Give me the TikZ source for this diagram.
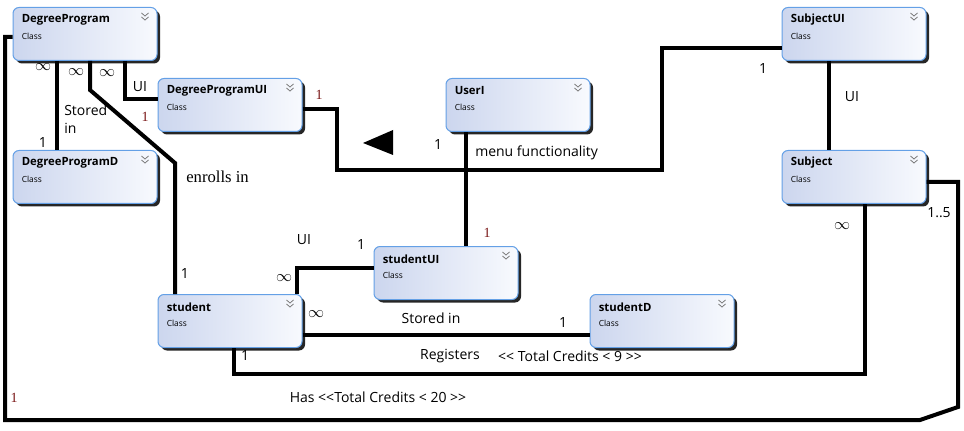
\documentclass[tikz,border=0pt]{standalone}
\usepackage{fontspec}
\setmainfont{Open Sans}
\newfontfamily\serifface{Liberation Serif}
\usetikzlibrary{shadows, positioning}

\definecolor{boxline}{RGB}{100,160,230}
\definecolor{boxleft}{RGB}{204,214,238}
\definecolor{boxright}{RGB}{248,250,254}
\definecolor{chev}{RGB}{120,120,120}
\definecolor{multred}{RGB}{120,20,20}

\begin{document}
\begin{tikzpicture}[
    x=0.75pt, y=-0.75pt,
    cls/.style={rectangle, draw=boxline, line width=0.75pt, rounded corners=4.5pt,
        left color=boxleft, right color=boxright, minimum width=108pt, minimum height=39.75pt,
        inner sep=0pt, drop shadow={shadow xshift=2.25pt, shadow yshift=-2.25pt, fill=black!85, opacity=1}},
    ttl/.style={anchor=west, inner sep=0pt, font=\bfseries\fontsize{8.5}{10}\selectfont},
    kind/.style={anchor=west, inner sep=0pt, font=\fontsize{6.3}{7}\selectfont},
    assoc/.style={line width=3pt},
    lbl/.style={inner sep=0pt, font=\fontsize{10.5}{13}\selectfont},
    inf/.style={inner sep=0pt, font=\fontsize{12}{13}\selectfont},
    mult/.style={lbl, text=multred, font=\serifface\fontsize{10.5}{12}\selectfont}
]
    \useasboundingbox (0,0) rectangle (964,431);

    % classes
    \foreach \n/\x/\y/\t in {dp/85/34/DegreeProgram, dpD/85/177/DegreeProgramD,
        dpUI/230/105/DegreeProgramUI, userI/518/105/UserI, subUI/854/34/SubjectUI,
        subj/854/177/Subject, stUI/446/273/studentUI, stu/230/321/student, stD/662/321/studentD} {
        \node[cls] (\n) at (\x,\y) {};
        \node[ttl] at ([shift={(9,13)}]\n.north west) {\t};
        \node[kind] at ([shift={(9,29)}]\n.north west) {Class};
        \draw[chev, line width=0.6pt] ([shift={(-16,6)}]\n.north east) -- ++(3.5,3) -- ++(3.5,-3)
            ([shift={(-16,10)}]\n.north east) -- ++(3.5,3) -- ++(3.5,-3);
    }

    % connectors
    \draw[assoc] ([shift={(0,3)}]dp.west) -- (5,37) -- (5,420) -- (920,420) -- (958,407)
        |- ([shift={(0,5)}]subj.east);
    \draw[assoc] ([shift={(-28,0)}]dp.south) -- ([shift={(-28,0)}]dpD.north);
    \draw[assoc] ([shift={(5,0)}]dp.south) -- (90,90) -- (175,163) -- ([shift={(-55,0)}]stu.north);
    \draw[assoc] ([shift={(40,0)}]dp.south) |- ([shift={(0,-6)}]dpUI.west);
    \draw[assoc] ([shift={(0,4)}]dpUI.east) -- (337,109) -- (337,170) -- (662,170)
        |- ([shift={(0,14)}]subUI.west);
    \draw[assoc] ([shift={(-52,0)}]userI.south) -- ([shift={(20,0)}]stUI.north);
    \draw[assoc] ([shift={(0,-5)}]stUI.west) -| ([shift={(67,0)}]stu.north);
    \draw[assoc] ([shift={(0,14)}]stu.east) -- ([shift={(0,14)}]stD.west);
    \draw[assoc] ([shift={(4,0)}]stu.south) |- (865,374) -- ([shift={(11,0)}]subj.south);
    \draw[assoc] ([shift={(-25,0)}]subUI.south) -- ([shift={(-25,0)}]subj.north);

    \fill (363,143) -- (393,130) -- (393,155) -- cycle;

    % labels
    \node[inf] at (43,67) {$\infty$};
    \node[lbl] at (43,143) {1};
    \node[lbl, anchor=north west, align=left] at (64,105) {Stored\\in};
    \node[inf] at (76,72) {$\infty$};
    \node[inf] at (107,73) {$\infty$};
    \node[lbl] at (140,87) {UI};
    \node[mult] at (145,117) {1};
    \node[lbl, anchor=west, font=\serifface\fontsize{12.5}{14}\selectfont] at (186,177) {enrolls in};
    \node[lbl] at (185,274) {1};
    \node[mult] at (319,95) {1};
    \node[lbl] at (438,145) {1};
    \node[lbl, anchor=west] at (475,153) {menu functionality};
    \node[mult] at (487,233) {1};
    \node[lbl] at (763,69) {1};
    \node[lbl] at (852,97) {UI};
    \node[inf] at (842,226) {$\infty$};
    \node[lbl] at (939,213) {1..5};
    \node[lbl] at (304,240) {UI};
    \node[lbl] at (361,245) {1};
    \node[inf] at (284,278) {$\infty$};
    \node[inf] at (316,314) {$\infty$};
    \node[lbl] at (431,318) {Stored in};
    \node[lbl] at (563,323) {1};
    \node[lbl] at (245,356) {1};
    \node[lbl] at (450,356) {Registers};
    \node[lbl] at (570,356) {<{}< Total Credits < 9 >{}>};
    \node[lbl] at (378,397) {Has <{}<Total Credits < 20 >{}>};
    \node[mult] at (14,398) {1};
\end{tikzpicture}
\end{document}
